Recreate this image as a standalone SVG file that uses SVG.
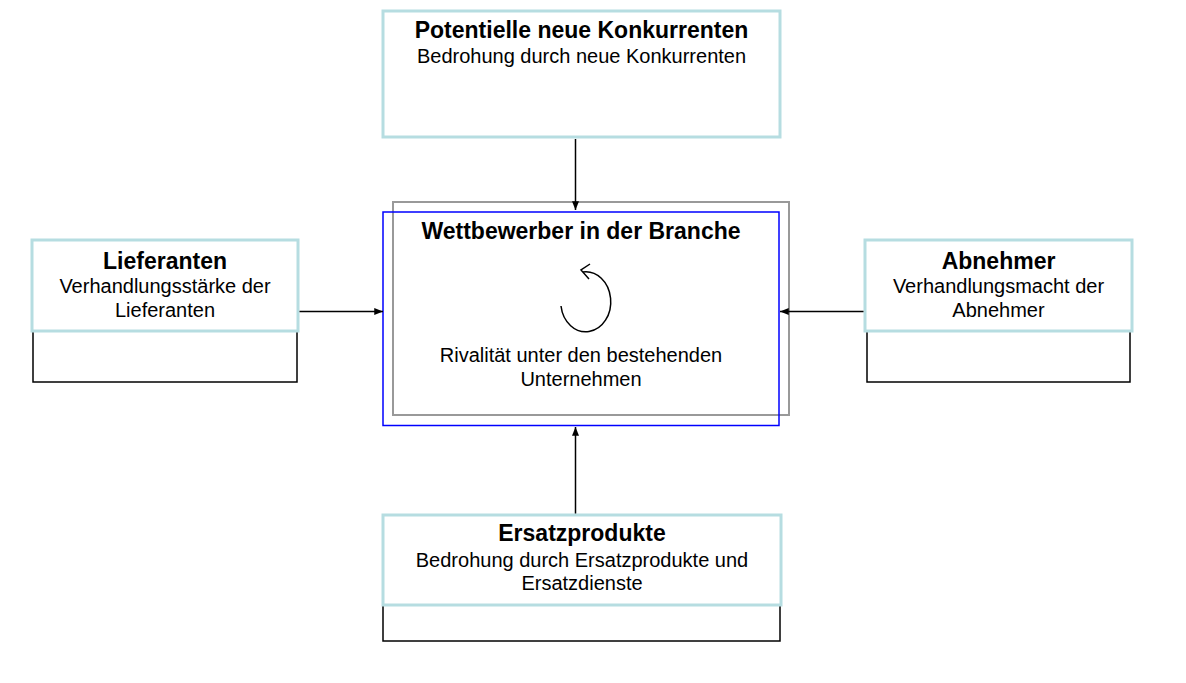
<svg xmlns="http://www.w3.org/2000/svg" width="1186" height="683" viewBox="0 0 1186 683">
<style>
text{font-family:"Liberation Sans",Arial,Helvetica,sans-serif;fill:#000;text-anchor:middle}
.t{font-size:23px;font-weight:bold}
.b{font-size:20px}
.lb{fill:#fff;stroke:#b6dde1;stroke-width:3}
.bk{fill:none;stroke:#000;stroke-width:1.5}
.cn{stroke:#000;stroke-width:1.5;fill:none}
</style>
<defs>
<marker id="ah" viewBox="0 0 10 8" refX="10" refY="4" markerWidth="9" markerHeight="7" markerUnits="userSpaceOnUse" orient="auto">
<path d="M0,0 L10,4 L0,8 z" fill="#000"/>
</marker>
</defs>
<rect width="1186" height="683" fill="#fff"/>
<g id="konkurrenten">
<rect class="lb" x="383" y="11" width="397" height="126"/>
<text class="t" x="581.5" y="38">Potentielle neue Konkurrenten</text>
<text class="b" x="581.5" y="63">Bedrohung durch neue Konkurrenten</text>
</g>
<g id="wettbewerber">
<rect x="393" y="202" width="396" height="213" fill="#fff" stroke="#999" stroke-width="2"/>
<rect x="383" y="212" width="396" height="213.5" fill="none" stroke="#0000ff" stroke-width="1.5"/>
<text class="t" x="581" y="239">Wettbewerber in der Branche</text>
<path d="M561,306 A25,30 0 1 0 583,272" fill="none" stroke="#000" stroke-width="1.5"/>
<polyline points="590,264 581,270 589,279" fill="none" stroke="#000" stroke-width="1.5"/>
<text class="b" x="581" y="362">Rivalität unter den bestehenden</text>
<text class="b" x="581" y="386">Unternehmen</text>
</g>
<g id="lieferanten">
<rect class="bk" x="33" y="241" width="264" height="141"/>
<rect class="lb" x="32" y="240" width="266" height="91"/>
<text class="t" x="165" y="269">Lieferanten</text>
<text class="b" x="165" y="293">Verhandlungsstärke der</text>
<text class="b" x="165" y="317">Lieferanten</text>
</g>
<g id="abnehmer">
<rect class="bk" x="867" y="241" width="263" height="141"/>
<rect class="lb" x="865" y="240" width="267" height="91"/>
<text class="t" x="998.5" y="269">Abnehmer</text>
<text class="b" x="998.5" y="293">Verhandlungsmacht der</text>
<text class="b" x="998.5" y="317">Abnehmer</text>
</g>
<g id="ersatzprodukte">
<rect class="bk" x="383" y="516" width="397" height="125"/>
<rect class="lb" x="383" y="515" width="398" height="90"/>
<text class="t" x="582" y="541">Ersatzprodukte</text>
<text class="b" x="582" y="567">Bedrohung durch Ersatzprodukte und</text>
<text class="b" x="582" y="590">Ersatzdienste</text>
</g>
<g id="connectors">
<line class="cn" x1="575.5" y1="139" x2="575.5" y2="210" marker-end="url(#ah)"/>
<line class="cn" x1="299.5" y1="311.5" x2="383" y2="311.5" marker-end="url(#ah)"/>
<line class="cn" x1="863.5" y1="311.5" x2="780" y2="311.5" marker-end="url(#ah)"/>
<line class="cn" x1="575.5" y1="513.5" x2="575.5" y2="427" marker-end="url(#ah)"/>
</g>
</svg>
